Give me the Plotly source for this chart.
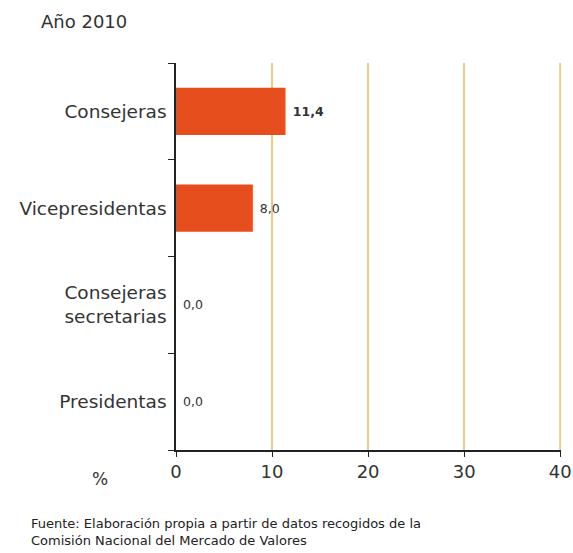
import plotly.graph_objects as go

# Cargos en consejos de administración, año 2010 (%)
categorias = ["Consejeras", "Vicepresidentas", "Consejeras<br>secretarias", "Presidentas"]
valores = [11.4, 8.0, 0.0, 0.0]
ticks_x = [0, 10, 20, 30, 40]

FUENTE = "DejaVu Sans, Verdana, sans-serif"
GRID = "#E9CB7E"

fig = go.Figure(
    go.Bar(
        x=valores,
        y=categorias,
        orientation="h",
        marker=dict(color="#E64E1E", line=dict(width=0)),
        texttemplate="\u00a0%{x:.1f}",
        textposition="outside",
        textfont=dict(family=FUENTE, size=12.5, color="#333",
                      weight=["bold", "normal", "normal", "normal"]),
        cliponaxis=False,
        width=0.49,
    )
)

# last grid line sits on the right edge of the plot area, draw it explicitly
fig.add_shape(type="line", xref="x", yref="paper",
              x0=ticks_x[-1], x1=ticks_x[-1], y0=0, y1=1,
              line=dict(color=GRID, width=2), layer="below")

fig.update_layout(
    width=573,
    height=553,
    margin=dict(l=176, r=12, t=63, b=103),
    paper_bgcolor="white",
    plot_bgcolor="white",
    separators=",.",
    showlegend=False,
    font=dict(family=FUENTE, size=18, color="#333"),
    xaxis=dict(
        range=[0, 40.08],
        tickvals=ticks_x,
        ticktext=[str(v) for v in ticks_x],
        showgrid=True,
        gridcolor=GRID,
        gridwidth=2,
        zeroline=False,
        showline=True,
        linecolor="#222",
        linewidth=1.5,
        ticks="outside",
        ticklen=5,
        tickcolor="#222",
        tickfont=dict(size=18),
        ticklabeloverflow="allow",
        automargin=False,
    ),
    yaxis=dict(
        categoryorder="array",
        categoryarray=categorias[::-1],
        range=[-0.5, 3.5],
        tickson="boundaries",
        ticks="outside",
        ticklen=6,
        tickcolor="#222",
        showline=True,
        linecolor="#222",
        linewidth=1.5,
        showgrid=False,
        tickfont=dict(size=18.5),
        ticklabelstandoff=4,
        automargin=False,
    ),
    annotations=[
        dict(text="Año 2010", xref="paper", yref="paper", x=-0.355, y=1.108,
             xanchor="left", yanchor="middle", showarrow=False, font=dict(size=18)),
        dict(text="%", xref="paper", yref="paper", x=-0.198, y=-0.075,
             xanchor="center", yanchor="middle", showarrow=False, font=dict(size=17)),
        dict(text="Fuente: Elaboración propia a partir de datos recogidos de la<br>"
                  "Comisión Nacional del Mercado de Valores",
             xref="paper", yref="paper", x=-0.381, y=-0.165, xanchor="left", yanchor="top",
             align="left", showarrow=False, font=dict(size=13, color="#222")),
    ],
)

fig.write_html("out.html")
